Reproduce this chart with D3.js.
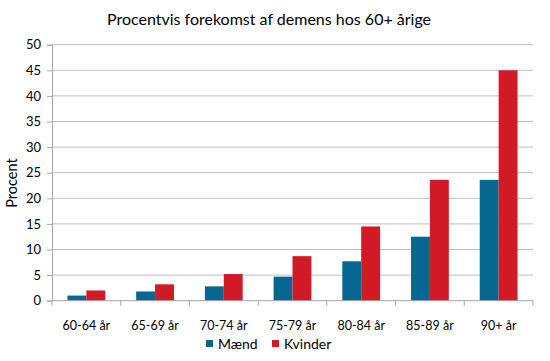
<!DOCTYPE html>
<html>
<head>
<meta charset="utf-8">
<script src="https://cdn.jsdelivr.net/npm/d3@7"></script>
<style>
  body { margin: 0; background: #fff; }
  svg text { font-family: Lato, "Open Sans", sans-serif; fill: #000; }
</style>
</head>
<body>
<div id="chart"></div>
<script>
var categories = ["60-64 år", "65-69 år", "70-74 år", "75-79 år", "80-84 år", "85-89 år", "90+ år"];
var seriesNames = ["Mænd", "Kvinder"];
var maend = [1.0, 1.8, 2.8, 4.7, 7.7, 12.5, 23.6];
var kvinder = [2.0, 3.2, 5.2, 8.7, 14.5, 23.6, 45.0];
var yTicks = [0, 5, 10, 15, 20, 25, 30, 35, 40, 45, 50];
var colors = ["#066791", "#d11a25"];

var width = 550, height = 361;
var plotLeft = 52, plotRight = 533, plotTop = 44.7, plotBottom = 300.7;

var svg = d3.select("#chart").append("svg")
    .attr("width", width)
    .attr("height", height);

var x = d3.scaleBand()
    .domain(categories)
    .range([plotLeft, plotRight])
    .paddingInner(0.45)
    .paddingOuter(0.225);

var x1 = d3.scaleBand()
    .domain(seriesNames)
    .range([0, x.bandwidth()]);

var y = d3.scaleLinear()
    .domain([0, 50])
    .range([plotBottom, plotTop]);

// gridlines
svg.append("g")
    .selectAll("line")
    .data(yTicks.slice(1))
    .enter()
    .append("line")
    .attr("x1", plotLeft)
    .attr("x2", plotRight)
    .attr("y1", function(d) { return y(d); })
    .attr("y2", function(d) { return y(d); })
    .attr("stroke", "#bfbfbf")
    .attr("stroke-width", 1);

// y axis
var yAxis = svg.append("g")
    .attr("transform", "translate(" + plotLeft + ",0)")
    .call(d3.axisLeft(y).tickValues(yTicks).tickSize(5).tickPadding(6));
yAxis.select(".domain").attr("stroke", "#a6a6a6");
yAxis.selectAll(".tick line").attr("stroke", "#a6a6a6");
yAxis.selectAll(".tick text").style("font-size", "13px").style("font-family", "Lato, sans-serif");

// bars
var rows = categories.map(function(c, i) {
    return {cat: c, values: [maend[i], kvinder[i]]};
});

var groups = svg.append("g")
    .selectAll("g")
    .data(rows)
    .enter()
    .append("g")
    .attr("transform", function(d) { return "translate(" + x(d.cat) + ",0)"; });

groups.selectAll("rect")
    .data(function(d) {
        return d.values.map(function(v, j) { return {name: seriesNames[j], value: v, idx: j}; });
    })
    .enter()
    .append("rect")
    .attr("x", function(d) { return x1(d.name); })
    .attr("width", x1.bandwidth())
    .attr("y", function(d) { return y(d.value); })
    .attr("height", function(d) { return plotBottom - y(d.value); })
    .attr("fill", function(d) { return colors[d.idx]; });

// x axis
var step = x.step();
var xAxis = svg.append("g")
    .attr("transform", "translate(0," + plotBottom + ")");
xAxis.append("line")
    .attr("x1", plotLeft).attr("x2", plotRight)
    .attr("stroke", "#a6a6a6");
xAxis.selectAll(".sep")
    .data(d3.range(categories.length + 1))
    .enter()
    .append("line")
    .attr("class", "sep")
    .attr("x1", function(i) { return plotLeft + i * step; })
    .attr("x2", function(i) { return plotLeft + i * step; })
    .attr("y1", 0).attr("y2", 5)
    .attr("stroke", "#a6a6a6");
xAxis.selectAll(".lbl")
    .data(categories)
    .enter()
    .append("text")
    .attr("class", "lbl")
    .attr("x", function(d) { return x(d) + x.bandwidth() / 2; })
    .attr("y", 29)
    .attr("text-anchor", "middle")
    .style("font-size", "12.5px")
    .text(function(d) { return d; });

// title
svg.append("text")
    .attr("x", 269)
    .attr("y", 25)
    .attr("text-anchor", "middle")
    .style("font-size", "16px")
    .text("Procentvis forekomst af demens hos 60+ årige");

// y label
svg.append("text")
    .attr("transform", "translate(17,183) rotate(-90)")
    .attr("text-anchor", "middle")
    .style("font-size", "14.5px")
    .text("Procent");

// legend
var legend = svg.append("g")
    .selectAll("g")
    .data(seriesNames)
    .enter()
    .append("g")
    .attr("transform", function(d, i) { return "translate(" + [206, 272][i] + ",340)"; });
legend.append("rect")
    .attr("width", 7).attr("height", 7)
    .attr("fill", function(d, i) { return colors[i]; });
legend.append("text")
    .attr("x", 12)
    .attr("y", 9)
    .style("font-size", "14px")
    .text(function(d) { return d; });
</script>
</body>
</html>
